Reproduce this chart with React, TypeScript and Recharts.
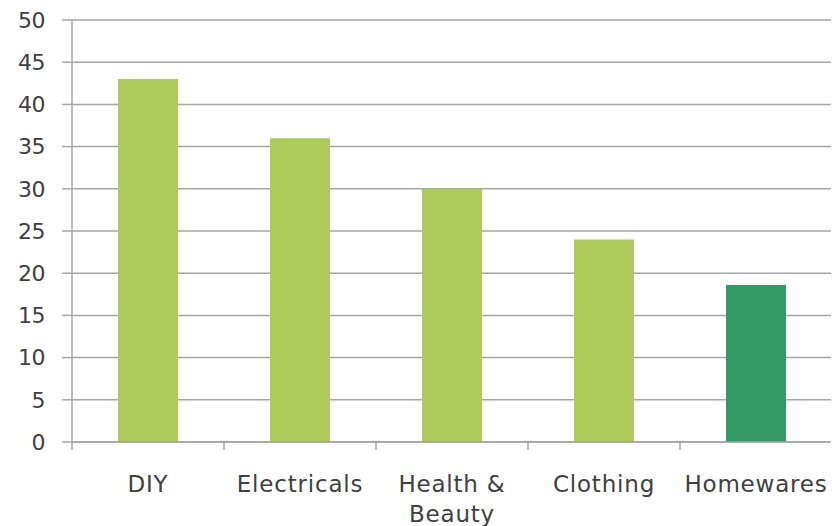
import React from 'react';
import { BarChart, Bar, XAxis, YAxis, CartesianGrid, Cell } from 'recharts';

const categories = ['DIY', 'Electricals', 'Health & Beauty', 'Clothing', 'Homewares'];
const values = [43, 36, 30, 24, 18.6];
const barColors = ['#ADCB5A', '#ADCB5A', '#ADCB5A', '#ADCB5A', '#339966'];
const yTicks = [0, 5, 10, 15, 20, 25, 30, 35, 40, 45, 50];

const data = categories.map((name, i) => ({ name, value: values[i] }));

const FONT = '"DejaVu Sans", sans-serif';
const TEXT = '#404040';
const GRID = '#A6A6A6';

function wrap(label: string, maxChars: number): string[] {
  const words = label.split(' ');
  const lines: string[] = [];
  let cur = '';
  for (const w of words) {
    const next = cur ? cur + ' ' + w : w;
    if (next.length > maxChars && cur) {
      lines.push(cur);
      cur = w;
    } else {
      cur = next;
    }
  }
  if (cur) lines.push(cur);
  return lines;
}

const XTick = (props: any) => {
  const { x, y, payload, width, visibleTicksCount, index } = props;
  const lines = wrap(String(payload.value), 11);
  const half = width / visibleTicksCount / 2;
  const last = index === visibleTicksCount - 1;
  return (
    <g>
      <line x1={x - half} x2={x - half} y1={y} y2={y + 8} stroke={GRID} strokeWidth={1.5} />
      {last && (
        <line x1={x + half} x2={x + half} y1={y} y2={y + 8} stroke={GRID} strokeWidth={1.5} />
      )}
      {lines.map((ln, i) => (
        <text
          key={i}
          x={x}
          y={y + 50 + i * 30}
          textAnchor="middle"
          fill={TEXT}
          fontSize={23}
          letterSpacing={0.8}
          fontFamily={FONT}
        >
          {ln}
        </text>
      ))}
    </g>
  );
};

export default function App() {
  return (
    <BarChart
      width={831}
      height={518}
      data={data}
      margin={{ top: 12, right: 7, left: 0, bottom: 0 }}
    >
      <CartesianGrid vertical={false} stroke={GRID} strokeWidth={1.5} />
      <XAxis
        dataKey="name"
        axisLine={{ stroke: GRID, strokeWidth: 1.5 }}
        tickLine={false}
        tickSize={0}
        tickMargin={0}
        tick={<XTick />}
        interval={0}
        height={84}
      />
      <YAxis
        width={64}
        domain={[0, 50]}
        ticks={yTicks}
        interval={0}
        axisLine={{ stroke: GRID, strokeWidth: 1.5 }}
        tickLine={{ stroke: GRID, strokeWidth: 1.5 }}
        tickSize={10}
        tickMargin={17}
        tick={{ fill: TEXT, fontSize: 22, letterSpacing: -0.5, fontFamily: FONT }}
      />
      <Bar dataKey="value" barSize={60} isAnimationActive={false}>
        {data.map((d, i) => (
          <Cell key={d.name} fill={barColors[i]} />
        ))}
      </Bar>
    </BarChart>
  );
}
